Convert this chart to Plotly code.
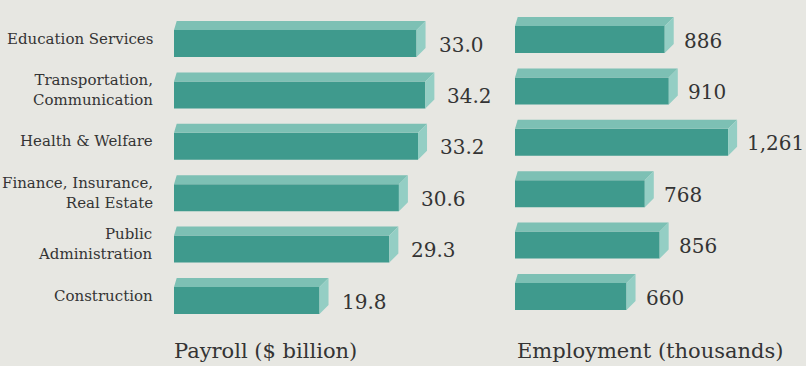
import plotly.graph_objects as go

# Industry data
categories = [
    "Education Services",
    "Transportation,<br>Communication",
    "Health & Welfare",
    "Finance, Insurance,<br>Real Estate",
    "Public<br>Administration",
    "Construction",
]
payroll = [33.0, 34.2, 33.2, 30.6, 29.3, 19.8]          # $ billion
employment = [886, 910, 1261, 768, 856, 660]              # thousands
payroll_title = "Payroll ($ billion)"
employment_title = "Employment (thousands)"

# Page geometry (pixels)
W, H = 806, 366
BG = "#e7e7e2"
FRONT = "#3f9a8d"
TOP = "#7dc0b4"
SIDE = "#94cec4"
INK = "#343434"
SERIF = "DejaVu Serif"

L_X0, L_X1, L_SCALE = 174, 500, 7.35      # left panel: px per $ billion
R_X0, R_X1, R_SCALE = 515, 806, 0.169     # right panel: px per thousand
ROW = 51.4                                # px between bar rows
L_Y0, R_Y0 = 43.5, 39.5                   # px of first row centre
BAR_PX = 27                               # bar face height
DEPTH = 9                                 # 3D extrusion, px

bar_w = BAR_PX / ROW
dy = DEPTH / ROW
rows = list(range(len(categories)))

fig = go.Figure()


def add_panel(values, xa, ya, scale, labels, gap):
    dx = DEPTH / scale
    top_x, top_y, side_x, side_y = [], [], [], []
    for r, v in zip(rows, values):
        t = r - bar_w / 2
        b = r + bar_w / 2
        top_x += [0, v, v + dx, dx * 0.3, 0, None]
        top_y += [t, t, t - dy, t - dy, t, None]
        side_x += [v, v + dx, v + dx, v, v, None]
        side_y += [t, t - dy, b - dy, b, t, None]
    fig.add_trace(go.Bar(
        x=values, y=rows, orientation="h", width=bar_w,
        marker=dict(color=FRONT, line=dict(width=0)),
        xaxis=xa, yaxis=ya, hoverinfo="skip", showlegend=False,
    ))
    for px, py, col in ((top_x, top_y, TOP), (side_x, side_y, SIDE)):
        fig.add_trace(go.Scatter(
            x=px, y=py, mode="lines", fill="toself", fillcolor=col,
            line=dict(width=0, color=col), xaxis=xa, yaxis=ya,
            hoverinfo="skip", showlegend=False,
        ))
    for r, v, lab in zip(rows, values, labels):
        fig.add_annotation(
            x=v, y=r, xref=xa, yref=ya, text=lab, showarrow=False,
            xanchor="left", yanchor="middle", xshift=DEPTH + gap, yshift=-1,
            font=dict(family=SERIF, size=20, color=INK),
        )


add_panel(payroll, "x", "y", L_SCALE, [f"{v:.1f}" for v in payroll], 11)
add_panel(employment, "x2", "y2", R_SCALE, [f"{v:,}" for v in employment], 8)

# Category labels
for r, c in zip(rows, categories):
    fig.add_annotation(
        x=155 / W, xref="paper", y=r, yref="y", text=c, showarrow=False,
        xanchor="right", yanchor="middle", align="right", yshift=5,
        font=dict(family=SERIF, size=15, color=INK),
    )

# Panel titles
for x0, txt in ((172, payroll_title), (515, employment_title)):
    fig.add_annotation(
        x=x0 / W, xref="paper", y=1 - 351 / H, yref="paper", text=txt,
        showarrow=False, xanchor="left", yanchor="middle",
        font=dict(family=SERIF, size=21, color=INK),
    )

axis_off = dict(showgrid=False, zeroline=False, showticklabels=False,
                showline=False, ticks="")
fig.update_layout(
    width=W, height=H, autosize=False,
    margin=dict(l=0, r=0, t=0, b=0),
    paper_bgcolor=BG, plot_bgcolor=BG,
    barmode="overlay",
    font=dict(family=SERIF),
    xaxis=dict(domain=[L_X0 / W, L_X1 / W],
               range=[0, (L_X1 - L_X0) / L_SCALE], **axis_off),
    xaxis2=dict(domain=[R_X0 / W, R_X1 / W],
                range=[0, (R_X1 - R_X0) / R_SCALE], **axis_off),
    yaxis=dict(domain=[0, 1], range=[(H - L_Y0) / ROW, -L_Y0 / ROW], **axis_off),
    yaxis2=dict(domain=[0, 1], anchor="x2",
                range=[(H - R_Y0) / ROW, -R_Y0 / ROW], **axis_off),
)

fig.write_html("out.html")
